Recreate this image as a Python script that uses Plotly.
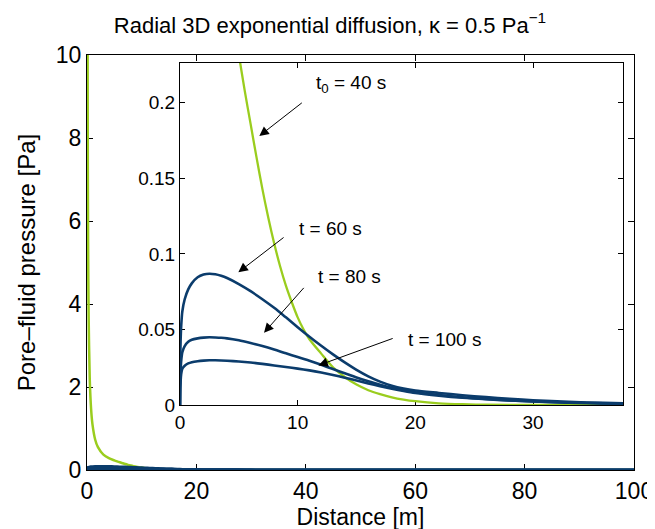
import plotly.graph_objects as go

# ---------------- data ----------------
r_green = [0.1, 0.15, 0.2, 0.3, 0.5, 0.75, 1, 1.5, 2, 3, 4, 5, 5.5, 6, 6.5, 7, 7.5, 8, 8.5, 9,
           9.5, 10, 10.5, 11, 12, 13, 14, 15, 16, 17, 18, 19, 20, 22, 24, 26, 30, 40, 60, 80, 100]
p_t40 = [11, 7.3, 5.5, 3.7, 2.2, 1.47, 1.1, 0.73, 0.55, 0.37, 0.285, 0.232, 0.208, 0.186, 0.164,
         0.143, 0.124, 0.107, 0.092, 0.079, 0.068, 0.058, 0.050, 0.0435, 0.034, 0.025, 0.0185,
         0.0135, 0.0098, 0.0072, 0.0051, 0.0036, 0.0025, 0.0011, 0.0005, 0.0002, 0.00003,
         0.0, 0.0, 0.0, 0.0]

r_blue = [0, 0.02, 0.05, 0.1, 0.2, 0.4, 0.7, 1.0, 1.5, 2.0, 2.5, 3.0, 3.5, 4, 5, 6, 7, 8, 9, 10,
          11, 12, 13, 14, 15, 16, 17, 18, 19, 20, 22, 24, 26, 28, 30, 33, 36, 40, 50, 60, 80, 100]
p_t60 = [0, 0.030, 0.042, 0.052, 0.062, 0.070, 0.0765, 0.0805, 0.0845, 0.0863, 0.0869, 0.0865,
         0.0855, 0.0840, 0.0800, 0.0753, 0.0700, 0.0643, 0.0580, 0.0515, 0.0452, 0.0392, 0.0335,
         0.0282, 0.0233, 0.0190, 0.0155, 0.0128, 0.0109, 0.0096, 0.0080, 0.0065, 0.0052, 0.0041,
         0.0032, 0.0021, 0.0014, 0.0009, 0.0002, 0.00005, 0.0, 0.0]
p_t80 = [0, 0.016, 0.022, 0.029, 0.035, 0.039, 0.0418, 0.0432, 0.0441, 0.0446, 0.0448, 0.0447,
         0.0445, 0.0441, 0.0428, 0.0410, 0.0390, 0.0367, 0.0342, 0.0318, 0.0293, 0.0266, 0.0238,
         0.0210, 0.0182, 0.0157, 0.0134, 0.0114, 0.0098, 0.0085, 0.0066, 0.0051, 0.0040, 0.0031,
         0.0024, 0.0016, 0.0011, 0.0006, 0.0002, 0.00005, 0.0, 0.0]
p_t100 = [0, 0.011, 0.015, 0.0205, 0.024, 0.026, 0.0275, 0.0283, 0.0290, 0.0294, 0.0296, 0.0296,
          0.0295, 0.0293, 0.0288, 0.0281, 0.0272, 0.0262, 0.0252, 0.0241, 0.0229, 0.0215, 0.0199,
          0.0181, 0.0162, 0.0143, 0.0125, 0.0108, 0.0093, 0.0080, 0.0062, 0.0048, 0.0038, 0.0030,
          0.0023, 0.0016, 0.0011, 0.0007, 0.0002, 0.00005, 0.0, 0.0]

main_xticks = [0, 20, 40, 60, 80, 100]
main_yticks = [0, 2, 4, 6, 8, 10]
inset_xticks = [0, 10, 20, 30]
inset_yticks = [0, 0.05, 0.1, 0.15, 0.2]

# annotation labels: (text, text_x, text_y, tip_x, tip_y, tail_x, tail_y) in inset data units
labels = [
    ("t<sub>0</sub> = 40 s", 11.4, 0.2124, 6.74, 0.178, 10.48, 0.2007),
    ("t = 60 s", 9.92, 0.1171, 4.96, 0.0878, 8.93, 0.1116),
    ("t = 80 s", 11.56, 0.0851, 7.14, 0.0478, 10.63, 0.0785),
    ("t = 100 s", 19.2, 0.0433, 11.76, 0.0262, 18.2, 0.0444),
]

GREEN = "#9acd1e"
BLUE = "#0b3c6c"
FONT = "Liberation Sans, Arial, Helvetica, sans-serif"
PAGE_OFFSET = 8  # default body margin of the html page

fig = go.Figure()

# main axes traces
fig.add_trace(go.Scatter(x=r_green, y=p_t40, mode="lines",
                         line=dict(color=GREEN, width=2.5, shape="spline", smoothing=0.8),
                         xaxis="x", yaxis="y", showlegend=False))
for p in (p_t60, p_t80, p_t100):
    fig.add_trace(go.Scatter(x=r_blue, y=p, mode="lines",
                             line=dict(color=BLUE, width=3, shape="spline", smoothing=0.8),
                             xaxis="x", yaxis="y", showlegend=False))

# inset traces
fig.add_trace(go.Scatter(x=r_green, y=p_t40, mode="lines",
                         line=dict(color=GREEN, width=2.3, shape="spline", smoothing=0.8),
                         xaxis="x2", yaxis="y2", showlegend=False))
for p in (p_t60, p_t80, p_t100):
    fig.add_trace(go.Scatter(x=r_blue, y=p, mode="lines",
                             line=dict(color=BLUE, width=2.6, shape="spline", smoothing=0.8),
                             xaxis="x2", yaxis="y2", showlegend=False))

axis_common = dict(showline=True, linecolor="black", linewidth=1, mirror="ticks",
                   ticks="inside", tickcolor="black", showgrid=False, zeroline=False,
                   automargin=False)

annotations = []
for text, tx, ty, hx, hy, ax_, ay_ in labels:
    annotations.append(dict(x=tx, y=ty, xref="x2", yref="y2", text=text, showarrow=False,
                            xanchor="left", yanchor="middle",
                            font=dict(family=FONT, size=19, color="black")))
    annotations.append(dict(x=hx, y=hy, xref="x2", yref="y2", ax=ax_, ay=ay_,
                            axref="x2", ayref="y2", text="", showarrow=True,
                            arrowhead=2, arrowsize=1.9, arrowwidth=1, arrowcolor="black",
                            standoff=0, startstandoff=0))

W, H = 655, 529
fig.update_layout(
    width=W, height=H,
    margin=dict(l=87 - PAGE_OFFSET, r=21 + PAGE_OFFSET, t=55 - PAGE_OFFSET, b=59 + PAGE_OFFSET),
    paper_bgcolor="white", plot_bgcolor="white",
    font=dict(family=FONT, color="black"),
    title=dict(text="Radial 3D exponential diffusion, κ = 0.5 Pa<sup>−1</sup>",
               x=(330 - PAGE_OFFSET) / W, xref="container", xanchor="center",
               y=1 - (25 - PAGE_OFFSET) / H, yref="container", yanchor="middle",
               font=dict(family=FONT, size=22, color="black")),
    xaxis=dict(domain=[0, 1], range=[0, 100], tickvals=main_xticks, ticklen=6,
               tickfont=dict(size=23), layer="below traces",
               title=dict(text="Distance [m]", font=dict(size=23), standoff=0),
               anchor="y", **axis_common),
    yaxis=dict(domain=[0, 1], range=[0, 10], tickvals=main_yticks, ticklen=6,
               tickfont=dict(size=23), layer="below traces",
               title=dict(text="Pore–fluid pressure [Pa]", font=dict(size=24), standoff=13),
               anchor="x", **axis_common),
    xaxis2=dict(domain=[0.170, 0.980], range=[0, 37.65], tickvals=inset_xticks, ticklen=5,
                tickfont=dict(size=19), anchor="y2", layer="below traces", **axis_common),
    yaxis2=dict(domain=[0.1566, 0.9807], range=[0, 0.2263], tickvals=inset_yticks, ticklen=5,
                tickfont=dict(size=19), anchor="x2", layer="below traces", **axis_common),
    annotations=annotations,
)

fig.write_html("out.html")
